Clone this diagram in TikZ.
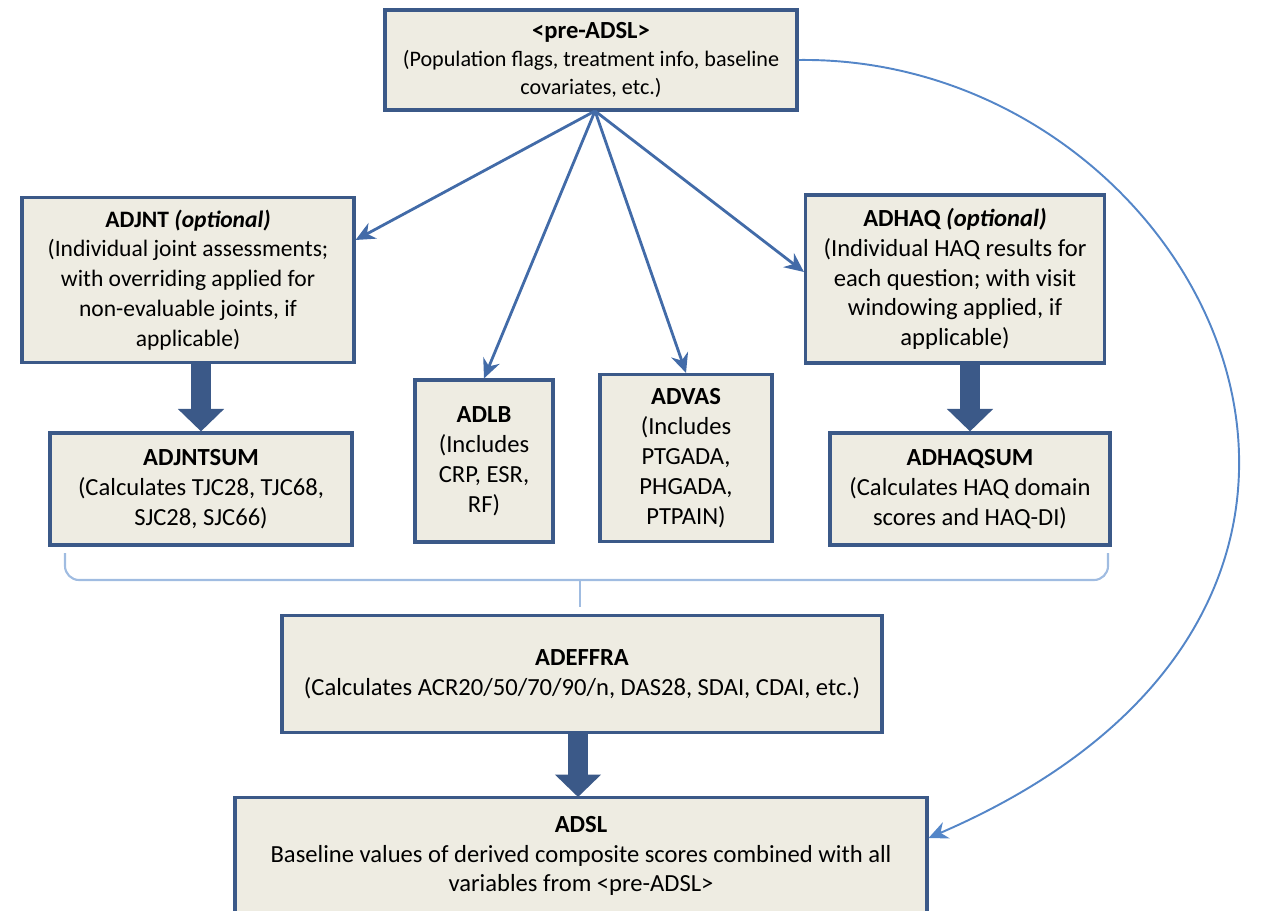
\documentclass[tikz,border=0pt]{standalone}
\usepackage{fontspec}
\setmainfont{Carlito}
\usepackage{tikz}
\usetikzlibrary{arrows.meta,positioning,calc}
\definecolor{boxfill}{RGB}{238,236,226}
\definecolor{boxline}{RGB}{59,89,136}
\definecolor{flowblue}{RGB}{66,107,168}
\definecolor{curveblue}{RGB}{84,134,200}
\definecolor{bracecol}{RGB}{160,188,225}

\begin{document}
\begin{tikzpicture}[
            x=0.02cm, y=-0.02cm,
            font=\fontsize{14}{17}\selectfont,
            dset/.style={draw=boxline, line width=1.8pt, fill=boxfill, align=center, inner sep=2pt},
            thin/.style={-{Stealth[length=11pt,width=10pt]}, draw=flowblue, line width=1.6pt},
            fat/.style={-{Triangle[length=0.45cm,width=0.9cm]}, draw=boxline, line width=0.4cm}
        ]
            \clip (0,0) rectangle (1266,911);
            \useasboundingbox (0,0) rectangle (1266,911);

            \node[dset, minimum width=8.24cm, minimum height=2cm, font=\fontsize{12.6}{16}\selectfont] (pre) at (591,60)
                {{\fontsize{14}{17}\selectfont\textbf{<pre-ADSL>}}\\(Population flags, treatment info, baseline\\covariates, etc.)};

            \node[dset, minimum width=6.64cm, minimum height=3.3cm, font=\fontsize{13.4}{17}\selectfont] (adjnt) at (188,280)
                {\textbf{ADJNT \textit{(optional)}}\\(Individual joint assessments;\\with overriding applied for\\non-evaluable joints, if\\applicable)};
            \node[dset, minimum width=6.04cm, minimum height=2.24cm] (adjntsum) at (201,489)
                {\textbf{ADJNTSUM}\\(Calculates TJC28, TJC68,\\SJC28, SJC66)};
            \node[dset, minimum width=2.76cm, minimum height=3.24cm] (adlb) at (484,461)
                {\textbf{ADLB}\\(Includes\\CRP, ESR,\\RF)};
            \node[dset, minimum width=3.44cm, minimum height=3.34cm] (advas) at (686,458)
                {\textbf{ADVAS}\\(Includes\\PTGADA,\\PHGADA,\\PTPAIN)};
            \node[dset, minimum width=5.98cm, minimum height=3.36cm] (adhaq) at (955,279)
                {\textbf{ADHAQ \textit{(optional)}}\\(Individual HAQ results for\\each question; with visit\\windowing applied, if\\applicable)};
            \node[dset, minimum width=5.6cm, minimum height=2.24cm] (adhaqsum) at (970,489)
                {\textbf{ADHAQSUM}\\(Calculates HAQ domain\\scores and HAQ-DI)};

            \node[dset, minimum width=12cm, minimum height=2.34cm] (adeffra) at (582,674)
                {\textbf{ADEFFRA}\\(Calculates ACR20/50/70/90/n, DAS28, SDAI, CDAI, etc.)};
            \node[dset, minimum width=13.84cm, minimum height=2.34cm] (adsl) at (581,856)
                {\textbf{ADSL}\\Baseline values of derived composite scores combined with all\\variables from <pre-ADSL>};

            % arrows from pre-ADSL
            \coordinate (hub) at (595,111);
            \draw[thin] (hub) -- (adjnt.east |- 0,240);
            \draw[thin] (hub) -- (adlb.north);
            \draw[thin] (hub) -- (advas.north);
            \draw[thin] (hub) -- (adhaq.west |- 0,272);

            \draw[fat] (adjntsum.north |- adjnt.south) -- (adjntsum.north);
            \draw[fat] (adhaqsum.north |- adhaq.south) -- (adhaqsum.north);
            \draw[fat] (578,732) -- (578,797);

            % brace
            \coordinate (bl) at (65,553);
            \coordinate (br) at (1108,553);
            \draw[bracecol, line width=1.2pt, rounded corners=8pt] (bl) |- (580,580) -| (br);
            \draw[bracecol, line width=1.2pt] (580,580) -- (580,607);

            % pre-ADSL feeds ADSL directly
            \draw[-{Stealth[length=11pt,width=10pt]}, curveblue, line width=1.1pt]
                (pre.east) .. controls (1200,55) and (1480,600) .. (adsl.east |- 0,838);
        \end{tikzpicture}
\end{document}
